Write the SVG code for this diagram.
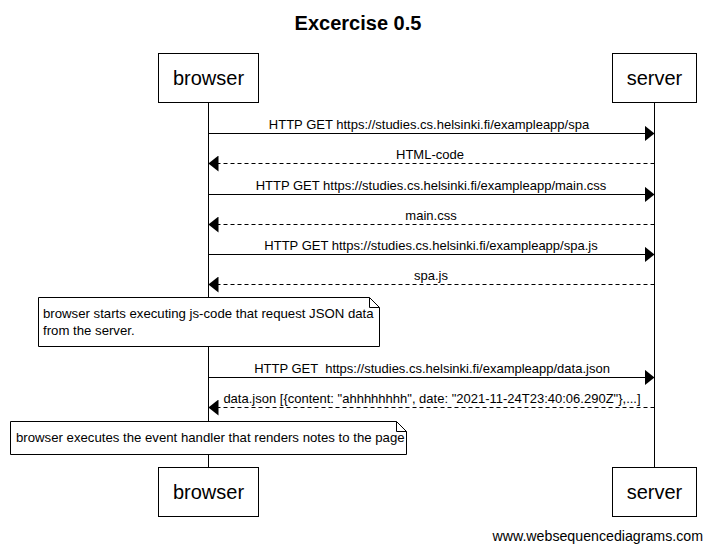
<svg xmlns="http://www.w3.org/2000/svg" width="712" height="550" viewBox="0 0 712 550">
<defs>
<style>
text{font-family:"Liberation Sans",Arial,sans-serif;fill:#000}
.title{font-size:20px;font-weight:bold;text-anchor:middle}
.part{font-size:20px;text-anchor:middle}
.lbl{font-size:13px;text-anchor:middle}
.note{font-size:13.2px}
.box{fill:#fff;stroke:#000;stroke-width:1}
.life{stroke:#000;stroke-width:1}
.msg{stroke:#000;stroke-width:1;fill:none}
.dash{stroke-dasharray:4 3}
.foot{font-size:14.2px;text-anchor:end}
</style>
<marker id="ah" viewBox="0 0 10 16" refX="10" refY="8" markerWidth="10" markerHeight="16" markerUnits="userSpaceOnUse" orient="auto">
<path d="M0,0 L10,8 L0,16 Z" fill="#000"/>
</marker>
</defs>
<rect width="712" height="550" fill="#fff"/>
<text class="title" x="358" y="30">Excercise 0.5</text>
<g id="lifelines">
<line class="life" x1="208.5" y1="102" x2="208.5" y2="467"/>
<line class="life" x1="654.5" y1="102" x2="654.5" y2="467"/>
</g>
<g id="browser-top"><rect class="box" x="158.5" y="53.5" width="100" height="49"/><text class="part" x="208.5" y="85">browser</text></g>
<g id="server-top"><rect class="box" x="612.5" y="53.5" width="84" height="49"/><text class="part" x="654.5" y="85">server</text></g>
<g id="connectors">
<line class="msg" x1="208.5" y1="133.5" x2="654.5" y2="133.5" marker-end="url(#ah)"/>
<text class="lbl" x="429" y="129">HTTP GET https://studies.cs.helsinki.fi/exampleapp/spa</text>
<line class="msg dash" x1="654.5" y1="163.5" x2="208.5" y2="163.5" marker-end="url(#ah)"/>
<text class="lbl" x="430" y="159">HTML-code</text>
<line class="msg" x1="208.5" y1="194.5" x2="654.5" y2="194.5" marker-end="url(#ah)"/>
<text class="lbl" x="431" y="190">HTTP GET https://studies.cs.helsinki.fi/exampleapp/main.css</text>
<line class="msg dash" x1="654.5" y1="224.5" x2="208.5" y2="224.5" marker-end="url(#ah)"/>
<text class="lbl" x="431" y="220">main.css</text>
<line class="msg" x1="208.5" y1="254.5" x2="654.5" y2="254.5" marker-end="url(#ah)"/>
<text class="lbl" x="431" y="250">HTTP GET https://studies.cs.helsinki.fi/exampleapp/spa.js</text>
<line class="msg dash" x1="654.5" y1="284.5" x2="208.5" y2="284.5" marker-end="url(#ah)"/>
<text class="lbl" x="431" y="280">spa.js</text>
<line class="msg" x1="208.5" y1="377.5" x2="654.5" y2="377.5" marker-end="url(#ah)"/>
<text class="lbl" xml:space="preserve" x="432" y="373">HTTP GET  https://studies.cs.helsinki.fi/exampleapp/data.json</text>
<line class="msg dash" x1="654.5" y1="407.5" x2="208.5" y2="407.5" marker-end="url(#ah)"/>
<text class="lbl" x="432" y="403">data.json [{content: "ahhhhhhhh", date: "2021-11-24T23:40:06.290Z"},...]</text>
</g>
<g id="note1">
<path class="box" d="M38.5,297.5 H369.5 L379.5,307.5 V346.5 H38.5 Z"/>
<path class="msg" d="M369.5,297.5 V307.5 H379.5"/>
<text class="note" x="43" y="318">browser starts executing js-code that request JSON data</text>
<text class="note" x="43" y="335">from the server.</text>
</g>
<g id="note2">
<path class="box" d="M10.5,421.5 H396.5 L406.5,431.5 V454.5 H10.5 Z"/>
<path class="msg" d="M396.5,421.5 V431.5 H406.5"/>
<text class="note" x="16" y="442">browser executes the event handler that renders notes to the page</text>
</g>
<g id="browser-bottom"><rect class="box" x="158.5" y="467.5" width="100" height="49"/><text class="part" x="208.5" y="499">browser</text></g>
<g id="server-bottom"><rect class="box" x="612.5" y="467.5" width="84" height="49"/><text class="part" x="654.5" y="499">server</text></g>
<text class="foot" x="703" y="541">www.websequencediagrams.com</text>
</svg>
